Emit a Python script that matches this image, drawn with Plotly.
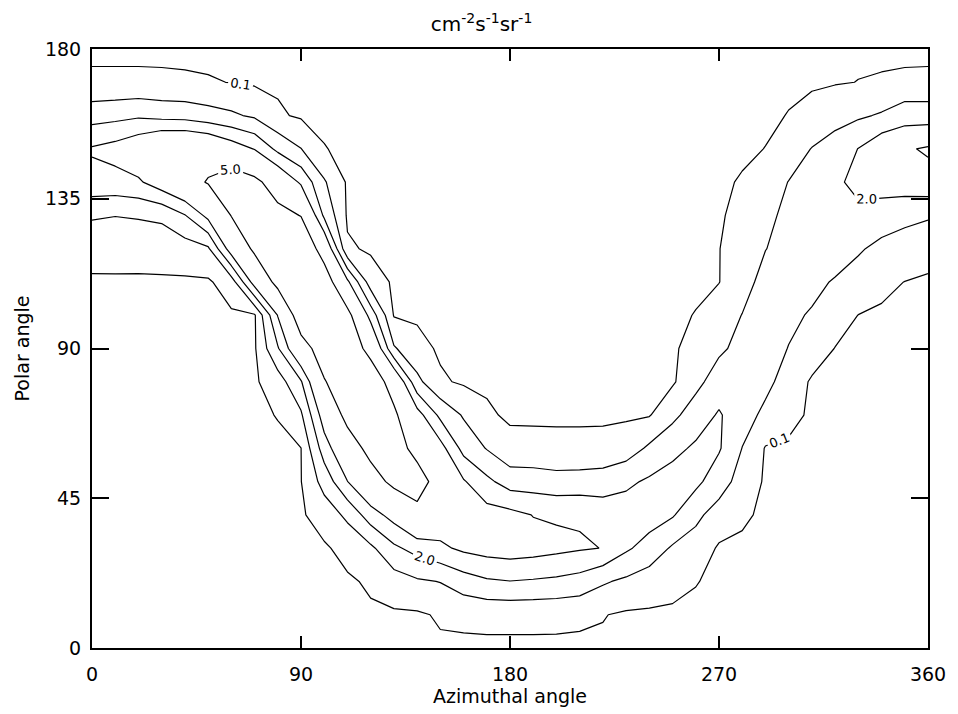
import plotly.graph_objects as go

# Grid of the flux map: azimuthal angle (deg) x polar angle (deg)
azimuth = list(range(0, 361, 10))
polar = list(range(0, 181, 10))

# Flux values (cm^-2 s^-1 sr^-1), one list per polar angle row, azimuth 0..360
flux_p000 = [0] * 37
flux_p010 = [0, 0, 0, 0, 0, 0, 0, 0, 0, 0, 0, 0, 0, 0, 0, 0.18, 0.22, 0.25, 0.25, 0.25,
             0.24, 0.2, 0.13, 0, 0, 0, 0, 0, 0, 0, 0, 0, 0, 0, 0, 0, 0]
flux_p020 = [0, 0, 0, 0, 0, 0, 0, 0, 0, 0, 0, 0, 0.2, 0.55, 0.87, 1.03, 1.53, 1.87, 1.98, 1.9,
             1.8, 1.61, 1.11, 0.82, 0.51, 0.3, 0.12, 0, 0, 0, 0, 0, 0, 0, 0, 0, 0]
flux_p030 = [0, 0, 0, 0, 0, 0, 0, 0, 0, 0, 0, 0.35, 0.8, 1.8, 2.36, 2.8, 3.2, 3.4, 3.5, 3.4,
             3.25, 3.1, 2.98, 2.15, 1.6, 0.87, 0.62, 0, 0, 0, 0, 0, 0, 0, 0, 0, 0]
flux_p040 = [0, 0, 0, 0, 0, 0, 0, 0, 0, 0, 0.48, 1.2, 2.53, 3.4, 4.6, 3.7, 3.6, 3.4, 3.3, 2.97,
             2.89, 2.9, 2.6, 2.5, 2.45, 2.1, 1.2, 0.62, 0.19, 0, 0, 0, 0, 0, 0, 0, 0]
flux_p050 = [0, 0, 0, 0, 0, 0, 0, 0, 0, 0.08, 1.35, 2.98, 4.28, 5.4, 5.6, 4.4, 3.1, 2.24, 1.54, 1.5,
             1.36, 1.39, 1.48, 1.8, 2.15, 2.4, 2.25, 1.42, 0.63, 0, 0, 0, 0, 0, 0, 0, 0]
flux_p060 = [0, 0, 0, 0, 0, 0, 0, 0, 0, 0.09, 2.5, 4.13, 5.5, 5.6, 4.58, 3.4, 1.67, 0.95, 0.32, 0.3,
             0.28, 0.28, 0.3, 0.5, 1.16, 1.74, 2.15, 2.1, 0.98, 0.05, 0, 0, 0, 0, 0, 0, 0]
flux_p070 = [0, 0, 0, 0, 0, 0, 0, 0, 0.12, 0.85, 3.55, 5.5, 6.0, 5.3, 3.45, 1.76, 0.9, 0.2, 0, 0,
             0, 0, 0, 0, 0.05, 0.75, 1.51, 2.1, 1.41, 0.78, 0.29, 0, 0, 0, 0, 0, 0]
flux_p080 = [0, 0, 0, 0, 0, 0, 0, 0, 0.52, 1.9, 4.9, 6.0, 6.0, 4.3, 1.25, 0.2, 0, 0, 0, 0,
             0, 0, 0, 0, 0, 0, 0.71, 1.5, 1.6, 1.25, 0.6, 0, 0, 0, 0, 0, 0]
flux_p090 = [0, 0, 0, 0, 0, 0, 0, 0, 1.9, 4.3, 5.8, 6.0, 4.5, 1.1, 0.34, 0, 0, 0, 0, 0,
             0, 0, 0, 0, 0, 0, 0.37, 0.82, 1.3, 1.3, 0.98, 0.55, 0.08, 0, 0, 0, 0]
flux_p100 = [0, 0, 0, 0, 0, 0, 0, 0, 3.05, 6.0, 6.2, 5.5, 2.6, 0.05, 0, 0, 0, 0, 0, 0,
             0, 0, 0, 0, 0, 0, 0.12, 0.57, 1.02, 1.25, 1.15, 0.93, 0.48, 0.09, 0, 0, 0]
flux_p110 = [0, 0, 0, 0, 0, 0, 0.5, 3.5, 5.5, 6.0, 6.0, 3.2, 0.5, 0, 0, 0, 0, 0, 0, 0,
             0, 0, 0, 0, 0, 0, 0, 0.08, 0.66, 1.3, 1.35, 1.2, 0.93, 0.63, 0.28, 0.09, 0]
flux_p120 = [0.4, 0.41, 0.4, 0.45, 0.55, 0.85, 3.58, 5.3, 5.8, 6.5, 4.2, 0.2, 0, 0, 0, 0, 0, 0, 0, 0,
             0, 0, 0, 0, 0, 0, 0, 0.08, 0.51, 0.98, 1.3, 1.45, 1.4, 1.1, 0.77, 0.66, 0.4]
flux_p130 = [1.1, 1.02, 1.08, 1.18, 1.95, 3.3, 5.05, 5.8, 5.5, 4.95, 1.8, 0, 0, 0, 0, 0, 0, 0, 0, 0,
             0, 0, 0, 0, 0, 0, 0, 0, 0.37, 0.8, 1.2, 1.5, 1.8, 1.74, 1.46, 1.2, 1.1]
flux_p140 = [2.7, 2.66, 2.85, 3.6, 4.4, 5.1, 6.0, 5.4, 4.18, 2.82, 1.1, 0, 0, 0, 0, 0, 0, 0, 0, 0,
             0, 0, 0, 0, 0, 0, 0, 0, 0.15, 0.59, 1.02, 1.45, 1.8, 2.3, 2.5, 2.6, 2.7]
flux_p150 = [3.1, 3.37, 3.87, 4.63, 4.7, 4.37, 3.6, 2.95, 1.74, 1.02, 0.12, 0, 0, 0, 0, 0, 0, 0, 0, 0,
             0, 0, 0, 0, 0, 0, 0, 0, 0, 0.11, 0.55, 1.03, 1.4, 2.02, 2.8, 2.9, 3.1]
flux_p160 = [1.59, 1.7, 1.85, 1.67, 1.61, 1.37, 1.15, 0.85, 0.2, 0, 0, 0, 0, 0, 0, 0, 0, 0, 0, 0,
             0, 0, 0, 0, 0, 0, 0, 0, 0, 0, 0.12, 0.37, 0.67, 0.86, 1.1, 1.6, 1.59]
flux_p170 = [0.19, 0.19, 0.19, 0.18, 0.16, 0.13, 0.09, 0, 0, 0, 0, 0, 0, 0, 0, 0, 0, 0, 0, 0,
             0, 0, 0, 0, 0, 0, 0, 0, 0, 0, 0, 0, 0.05, 0.11, 0.145, 0.18, 0.19]
flux_p180 = [0] * 37

# Contour levels; every other level carries a label
levels = [0.1, 1.0, 2.0, 3.0, 5.0]
labelled_levels = [0.1, 2.0, 5.0]

x_ticks = [0, 90, 180, 270, 360]
y_ticks = [0, 45, 90, 135, 180]

flux = [flux_p000, flux_p010, flux_p020, flux_p030, flux_p040, flux_p050, flux_p060,
        flux_p070, flux_p080, flux_p090, flux_p100, flux_p110, flux_p120, flux_p130,
        flux_p140, flux_p150, flux_p160, flux_p170, flux_p180]

FONT = "DejaVu Sans"

fig = go.Figure()
for lev in levels:
    fig.add_trace(go.Contour(
        x=azimuth, y=polar, z=flux,
        autocontour=False,
        contours=dict(start=lev, end=lev, size=1, coloring="lines",
                      showlabels=lev in labelled_levels,
                      labelformat=".1f",
                      labelfont=dict(family=FONT, size=13, color="black")),
        line=dict(width=1.2, smoothing=0),
        colorscale=[[0, "black"], [1, "black"]],
        showscale=False,
        hoverinfo="skip",
    ))

fig.update_layout(
    width=958, height=714,
    margin=dict(l=92, r=22, t=49, b=62),
    paper_bgcolor="white", plot_bgcolor="white",
    font=dict(family=FONT, size=19, color="black"),
    showlegend=False,
    title=dict(text="cm<sup>-2</sup>s<sup>-1</sup>sr<sup>-1</sup>",
               x=0.466, xref="paper", xanchor="center",
               y=0.966, yref="container", yanchor="middle",
               font=dict(family=FONT, size=20, color="black")),
)
fig.update_xaxes(
    range=[0, 360], tickvals=x_ticks, ticktext=[str(v) for v in x_ticks],
    ticks="inside", ticklen=12, tickwidth=1.5, tickcolor="black",
    showline=True, linecolor="black", linewidth=2, mirror="ticks",
    showgrid=False, zeroline=False,
    tickfont=dict(family=FONT, size=19),
    ticklabelstandoff=8,
    title=dict(text="Azimuthal angle", standoff=4, font=dict(family=FONT, size=19)),
)
fig.update_yaxes(
    range=[0, 180], tickvals=y_ticks, ticktext=[str(v) for v in y_ticks],
    ticks="inside", ticklen=17, tickwidth=1.5, tickcolor="black",
    showline=True, linecolor="black", linewidth=2, mirror="ticks",
    showgrid=False, zeroline=False,
    tickfont=dict(family=FONT, size=19),
    ticklabelstandoff=5,
    title=dict(text="Polar angle", standoff=10, font=dict(family=FONT, size=19)),
)

fig.write_html("out.html")
